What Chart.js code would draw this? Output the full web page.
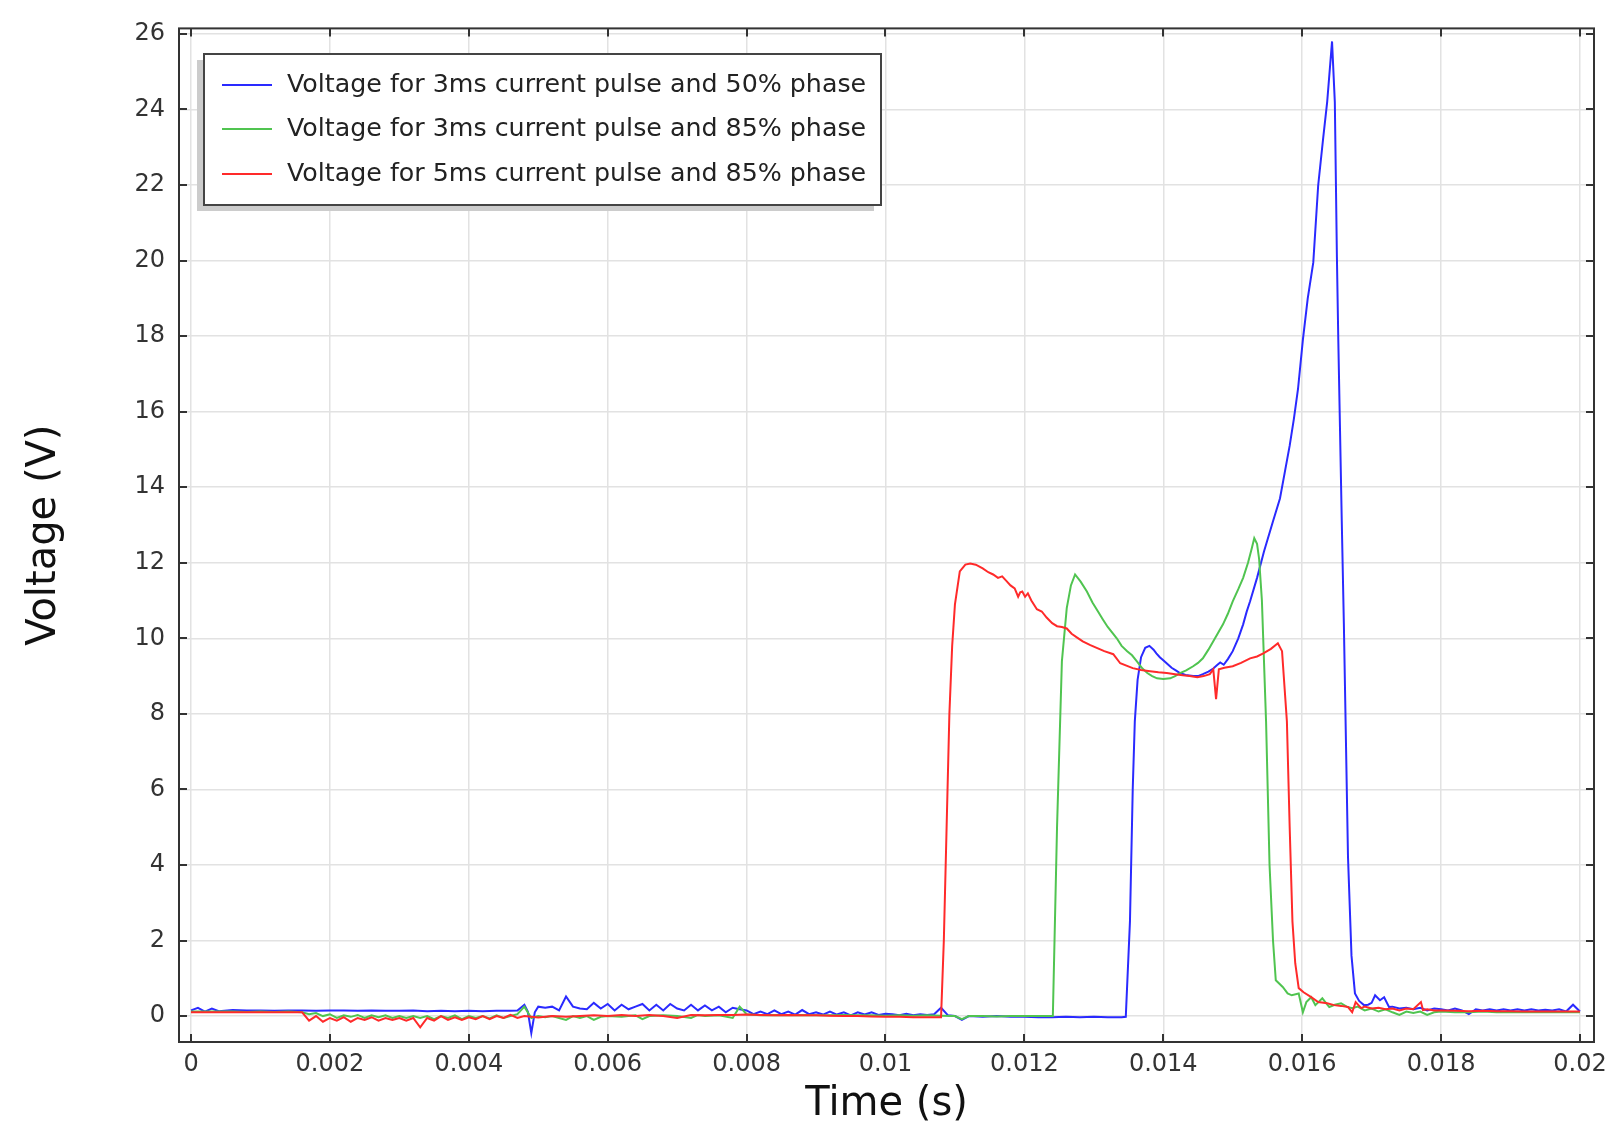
<!DOCTYPE html>
<html>
<head>
<meta charset="utf-8">
<script src="https://cdn.jsdelivr.net/npm/chart.js@4/dist/chart.umd.min.js"></script>
<style>
  html, body { margin: 0; padding: 0; background: #ffffff; }
  canvas { display: block; }
</style>
</head>
<body>
<canvas id="c" width="1621" height="1124"></canvas>
<script>
// ---------- DATA ----------
const seriesLabels = [
  'Voltage for 3ms current pulse and 50% phase',
  'Voltage for 3ms current pulse and 85% phase',
  'Voltage for 5ms current pulse and 85% phase'
];

const xTickValues = [0, 0.002, 0.004, 0.006, 0.008, 0.01, 0.012, 0.014, 0.016, 0.018, 0.02];
const xTickLabels = ['0', '0.002', '0.004', '0.006', '0.008', '0.01', '0.012', '0.014', '0.016', '0.018', '0.02'];
const yTickValues = [0, 2, 4, 6, 8, 10, 12, 14, 16, 18, 20, 22, 24, 26];
const yTickLabels = ['0', '2', '4', '6', '8', '10', '12', '14', '16', '18', '20', '22', '24', '26'];

// Blue: 3ms pulse, 50% phase
const blueTime = [
  0, 0.0001, 0.0002, 0.0003, 0.0004, 0.0006, 0.0008, 0.001, 0.0012, 0.0014,
  0.0016, 0.0018, 0.002, 0.0022, 0.0024, 0.0026, 0.0028, 0.003, 0.0032, 0.0034,
  0.0036, 0.0038, 0.004, 0.0042, 0.0044, 0.0046, 0.0047, 0.0048, 0.00485, 0.0049,
  0.00495, 0.005, 0.0051, 0.0052, 0.0053, 0.0054, 0.0055, 0.0056, 0.0057, 0.0058,
  0.0059, 0.006, 0.0061, 0.0062, 0.0063, 0.0064, 0.0065, 0.0066, 0.0067, 0.0068,
  0.0069, 0.007, 0.0071, 0.0072, 0.0073, 0.0074, 0.0075, 0.0076, 0.0077, 0.0078,
  0.0079, 0.008, 0.0081, 0.0082, 0.0083, 0.0084, 0.0085, 0.0086, 0.0087, 0.0088,
  0.0089, 0.009, 0.0091, 0.0092, 0.0093, 0.0094, 0.0095, 0.0096, 0.0097, 0.0098,
  0.0099, 0.01, 0.0101, 0.0102, 0.0103, 0.0104, 0.0105, 0.0106, 0.0107, 0.0108,
  0.0109, 0.011, 0.0111, 0.0112, 0.0114, 0.0116, 0.0118, 0.012, 0.0122, 0.0124,
  0.0126, 0.0128, 0.013, 0.0132, 0.0134, 0.01346, 0.01352, 0.01356, 0.01359, 0.01363,
  0.01368, 0.01374, 0.0138, 0.01386, 0.0139, 0.01395, 0.014, 0.01406, 0.01412, 0.01418,
  0.01424, 0.01432, 0.01443, 0.0145, 0.01457, 0.01465, 0.01472, 0.01478, 0.01482, 0.01487,
  0.01493, 0.015, 0.01508, 0.01515, 0.0152, 0.01525, 0.01535, 0.01545, 0.01558, 0.01568,
  0.01575, 0.01582, 0.01588, 0.01594, 0.01601, 0.01608, 0.01616, 0.01623, 0.0163, 0.01636,
  0.01643, 0.01647, 0.0165, 0.01652, 0.01657, 0.0166, 0.01666, 0.01671, 0.01676, 0.01682,
  0.01689, 0.01695, 0.017, 0.01705, 0.01712, 0.01718, 0.01725, 0.0173, 0.0174, 0.0175,
  0.0176, 0.0177, 0.0178, 0.0179, 0.018, 0.0181, 0.0182, 0.0183, 0.0184, 0.0185,
  0.0186, 0.0187, 0.0188, 0.0189, 0.019, 0.0191, 0.0192, 0.0193, 0.0194, 0.0195,
  0.0196, 0.0197, 0.0198, 0.0199, 0.02
];
const blueVolt = [
  0.15, 0.22, 0.12, 0.2, 0.13, 0.16, 0.15, 0.15, 0.14, 0.15,
  0.15, 0.14, 0.15, 0.15, 0.14, 0.15, 0.14, 0.14, 0.15, 0.13,
  0.14, 0.13, 0.14, 0.13, 0.14, 0.14, 0.15, 0.3, 0.12, -0.45,
  0.1, 0.25, 0.22, 0.25, 0.15, 0.52, 0.25, 0.2, 0.18, 0.35,
  0.2, 0.32, 0.15, 0.3, 0.18, 0.25, 0.32, 0.15, 0.3, 0.15,
  0.32, 0.2, 0.15, 0.3, 0.15, 0.28, 0.15, 0.25, 0.1, 0.22,
  0.18, 0.15, 0.05, 0.12, 0.05, 0.15, 0.05, 0.12, 0.04, 0.16,
  0.05, 0.1, 0.04, 0.12, 0.04, 0.1, 0.02, 0.1, 0.04, 0.1,
  0.03, 0.06, 0.05, 0.02, 0.06, 0.02, 0.05, 0.03, 0.05, 0.22,
  0.02, 0.0, -0.1, 0.0, -0.02, 0.0, -0.02, -0.02, -0.03, -0.03,
  -0.02, -0.03, -0.02, -0.03, -0.03, -0.02, 2.5, 6.0, 7.8, 8.9,
  9.5, 9.75, 9.8, 9.7, 9.6, 9.5, 9.42, 9.32, 9.22, 9.15,
  9.08, 9.03, 9.0, 9.0, 9.05, 9.12, 9.2, 9.3, 9.36, 9.3,
  9.45, 9.66, 10.0, 10.37, 10.7, 10.98, 11.6, 12.3, 13.1, 13.7,
  14.4, 15.1, 15.8, 16.6, 17.9, 19.0, 19.95, 21.98, 23.2, 24.2,
  25.8, 24.2, 20.1, 17.9, 13.1, 10.4, 4.2, 1.6, 0.6, 0.4,
  0.29, 0.3, 0.35, 0.55, 0.42, 0.5, 0.24, 0.25, 0.2, 0.22,
  0.18, 0.22, 0.15, 0.2, 0.18, 0.15, 0.2, 0.15, 0.05, 0.18,
  0.15, 0.18, 0.15, 0.18, 0.15, 0.18, 0.15, 0.18, 0.15, 0.17,
  0.15, 0.18, 0.12, 0.3, 0.12
];

// Green: 3ms pulse, 85% phase
const greenTime = [
  0, 0.0002, 0.0004, 0.0006, 0.0008, 0.001, 0.0012, 0.0014, 0.0016, 0.0017,
  0.0018, 0.0019, 0.002, 0.0021, 0.0022, 0.0023, 0.0024, 0.0025, 0.0026, 0.0027,
  0.0028, 0.0029, 0.003, 0.0031, 0.0032, 0.0033, 0.0034, 0.0035, 0.0036, 0.0037,
  0.0038, 0.0039, 0.004, 0.0041, 0.0042, 0.0043, 0.0044, 0.0045, 0.0046, 0.0047,
  0.0048, 0.0049, 0.005, 0.0051, 0.0052, 0.0053, 0.0054, 0.0055, 0.0056, 0.0057,
  0.0058, 0.0059, 0.006, 0.0062, 0.0064, 0.0065, 0.0066, 0.0068, 0.007, 0.0072,
  0.0073, 0.0074, 0.0076, 0.0078, 0.0079, 0.008, 0.0082, 0.0084, 0.0086, 0.0088,
  0.009, 0.0092, 0.0094, 0.0096, 0.0098, 0.01, 0.0102, 0.0104, 0.0106, 0.0108,
  0.011, 0.0111, 0.0112, 0.0114, 0.0116, 0.0118, 0.012, 0.0122, 0.0124, 0.01241,
  0.01247, 0.01254, 0.01261, 0.01267, 0.01273, 0.01281, 0.0129, 0.01298, 0.01306, 0.01313,
  0.0132, 0.01333, 0.0134, 0.01348, 0.01355, 0.01362, 0.0137, 0.01377, 0.01384, 0.01391,
  0.014, 0.0141, 0.01417, 0.01424, 0.01433, 0.01443, 0.0145, 0.01457, 0.01465, 0.01472,
  0.01479, 0.01486, 0.01493, 0.015, 0.01508, 0.01515, 0.01522, 0.01527, 0.01531, 0.01535,
  0.01538, 0.01542, 0.01548, 0.01553, 0.01558, 0.01562, 0.01572, 0.01579, 0.01585, 0.01595,
  0.01601, 0.01606, 0.01613, 0.01619, 0.01629, 0.01639, 0.01647, 0.01656, 0.01664, 0.01672,
  0.0168, 0.0169, 0.017, 0.0171, 0.0172, 0.0173, 0.0174, 0.0175, 0.0176, 0.0177,
  0.0178, 0.0179, 0.018, 0.0182, 0.0184, 0.0186, 0.0188, 0.019, 0.0192, 0.0194,
  0.0196, 0.0198, 0.02
];
const greenVolt = [
  0.12, 0.12, 0.12, 0.12, 0.11, 0.12, 0.11, 0.12, 0.1, 0.05,
  0.08, 0.0, 0.05, -0.05, 0.02, -0.02, 0.03, -0.05, 0.02, -0.03,
  0.02, -0.05, 0.0, -0.05, 0.0, -0.05, 0.0, -0.08, 0.0, -0.05,
  0.02, -0.08, 0.0, -0.05, 0.0, -0.06, 0.02, -0.05, 0.0, 0.05,
  0.25, -0.05, 0.0, -0.03, 0.0, -0.05, -0.1, 0.0, -0.05, 0.0,
  -0.1, -0.02, 0.0, -0.02, 0.02, -0.08, 0.0, 0.02, 0.0, -0.05,
  0.03, 0.0, 0.02, -0.05, 0.25, 0.05, 0.02, 0.03, 0.02, 0.03,
  0.02, 0.02, 0.03, 0.02, 0.02, 0.01, 0.02, 0.01, 0.02, 0.01,
  0.0, -0.08, 0.0, 0.0, -0.01, 0.0, 0.0, 0.0, 0.0, 0.02,
  5.0, 9.39, 10.8, 11.4, 11.69, 11.5, 11.24, 10.95, 10.71, 10.5,
  10.3, 10.0, 9.8, 9.66, 9.55, 9.39, 9.2, 9.08, 9.0, 8.94,
  8.92, 8.94, 9.0, 9.08, 9.15, 9.26, 9.35, 9.47, 9.7, 9.92,
  10.15, 10.37, 10.65, 10.98, 11.3, 11.6, 12.0, 12.35, 12.65, 12.5,
  12.1, 11.0, 7.8, 4.0, 2.0, 0.95, 0.77, 0.6, 0.55, 0.6,
  0.1, 0.37, 0.5, 0.29, 0.47, 0.24, 0.3, 0.34, 0.25, 0.21,
  0.25, 0.15, 0.2, 0.12, 0.18, 0.1, 0.03, 0.12, 0.08, 0.12,
  0.03, 0.1, 0.12, 0.1, 0.1, 0.12, 0.1, 0.1, 0.1, 0.1,
  0.1, 0.1, 0.1
];

// Red: 5ms pulse, 85% phase
const redTime = [
  0, 0.0002, 0.0004, 0.0006, 0.0008, 0.001, 0.0012, 0.0014, 0.0016, 0.0017,
  0.0018, 0.0019, 0.002, 0.0021, 0.0022, 0.0023, 0.0024, 0.0025, 0.0026, 0.0027,
  0.0028, 0.0029, 0.003, 0.0031, 0.0032, 0.0033, 0.0034, 0.0035, 0.0036, 0.0037,
  0.0038, 0.0039, 0.004, 0.0041, 0.0042, 0.0043, 0.0044, 0.0045, 0.0046, 0.0047,
  0.0048, 0.0049, 0.005, 0.0052, 0.0054, 0.0056, 0.0058, 0.006, 0.0062, 0.0064,
  0.0066, 0.0068, 0.007, 0.0072, 0.0074, 0.0076, 0.0078, 0.008, 0.0082, 0.0084,
  0.0086, 0.0088, 0.009, 0.0092, 0.0094, 0.0096, 0.0098, 0.01, 0.0102, 0.0104,
  0.0106, 0.0108, 0.01084, 0.01088, 0.01092, 0.01096, 0.011, 0.01107, 0.01115, 0.01122,
  0.0113, 0.0114, 0.01148, 0.01155, 0.01162, 0.01168, 0.01175, 0.0118, 0.01186, 0.01191,
  0.01194, 0.01197, 0.01201, 0.01205, 0.0121, 0.01218, 0.01225, 0.01232, 0.0124, 0.01247,
  0.01254, 0.01261, 0.01268, 0.01276, 0.01284, 0.01295, 0.01305, 0.01315, 0.01328, 0.01338,
  0.01356, 0.01368, 0.01381, 0.01393, 0.01405, 0.01417, 0.01428, 0.01438, 0.01449, 0.01458,
  0.01467, 0.01472, 0.01476, 0.0148, 0.01488, 0.015, 0.01512, 0.01525, 0.01535, 0.01544,
  0.01555, 0.01565, 0.01571, 0.01578, 0.01582, 0.01586, 0.0159, 0.01595, 0.01602, 0.01613,
  0.01623, 0.01636, 0.01646, 0.01656, 0.01666, 0.01672, 0.01677, 0.01685, 0.0169, 0.017,
  0.0171, 0.0172, 0.0173, 0.0174, 0.0175, 0.0176, 0.01771, 0.01774, 0.0178, 0.0179,
  0.018, 0.0182, 0.0184, 0.0186, 0.0188, 0.019, 0.0192, 0.0194, 0.0196, 0.0198,
  0.02
];
const redVolt = [
  0.1, 0.1, 0.1, 0.1, 0.1, 0.1, 0.1, 0.1, 0.1, -0.12,
  0.0, -0.15, -0.05, -0.12, -0.03, -0.15, -0.05, -0.1, -0.03, -0.12,
  -0.05, -0.1, -0.05, -0.12, -0.05, -0.3, -0.05, -0.12, 0.0, -0.1,
  -0.03, -0.1, -0.03, -0.08, 0.0, -0.08, 0.0, -0.05, 0.03, -0.05,
  0.0, -0.02, -0.04, 0.0, -0.02, 0.0, 0.02, 0.0, 0.03, 0.0,
  0.03, 0.0, -0.05, 0.03, 0.02, 0.03, 0.03, 0.04, 0.03, 0.02,
  0.03, 0.02, 0.02, 0.01, 0.0, 0.0, -0.01, -0.02, -0.02, -0.03,
  -0.03, -0.03, 2.0, 5.0, 8.0, 9.8, 10.9, 11.77, 11.95, 11.98,
  11.95, 11.85, 11.75, 11.69, 11.6, 11.64, 11.5, 11.4, 11.32, 11.1,
  11.22, 11.24, 11.1, 11.19, 11.0, 10.77, 10.71, 10.55, 10.4, 10.32,
  10.3, 10.26, 10.12, 10.02, 9.92, 9.82, 9.74, 9.66, 9.58, 9.34,
  9.21, 9.16, 9.13, 9.1, 9.08, 9.05, 9.02, 9.0, 8.97, 9.0,
  9.05, 9.18, 8.39, 9.18, 9.22, 9.26, 9.35, 9.47, 9.52, 9.6,
  9.72, 9.87, 9.66, 7.8, 5.0, 2.5, 1.4, 0.74, 0.63, 0.5,
  0.37, 0.34, 0.29, 0.27, 0.24, 0.1, 0.37, 0.21, 0.25, 0.2,
  0.22, 0.18, 0.2, 0.15, 0.2, 0.18, 0.37, 0.16, 0.18, 0.15,
  0.15, 0.14, 0.13, 0.14, 0.13, 0.13, 0.12, 0.12, 0.12, 0.12,
  0.12
];

const seriesColors = ['#2a2aff', '#50c450', '#ff2a2a'];

// ---------- CHART ----------
const FONT = "'DejaVu Sans', 'Liberation Sans', sans-serif";

function toPoints(ts, vs) {
  return ts.map((t, i) => ({ x: t, y: vs[i] }));
}

const framePlugin = {
  id: 'frameAndLegend',
  afterDatasetsDraw(chart) {
    const ctx = chart.ctx;
    const a = chart.chartArea;
    const xs = chart.scales.x, ys = chart.scales.y;
    ctx.save();
    // frame
    ctx.strokeStyle = '#333333';
    ctx.lineWidth = 2;
    ctx.strokeRect(a.left, a.top, a.right - a.left, a.bottom - a.top);
    // inward ticks
    const tl = 8;
    ctx.beginPath();
    xTickValues.forEach(v => {
      const px = Math.round(xs.getPixelForValue(v));
      ctx.moveTo(px, a.bottom); ctx.lineTo(px, a.bottom - tl);
      ctx.moveTo(px, a.top); ctx.lineTo(px, a.top + tl);
    });
    yTickValues.forEach(v => {
      const py = Math.round(ys.getPixelForValue(v));
      ctx.moveTo(a.left, py); ctx.lineTo(a.left + tl, py);
      ctx.moveTo(a.right, py); ctx.lineTo(a.right - tl, py);
    });
    ctx.stroke();

    // legend box
    const bx = 204, by = 54, bw = 677, bh = 151;
    ctx.fillStyle = '#cccccc';
    ctx.fillRect(bx - 7, by + 6, bw, bh);
    ctx.fillStyle = '#ffffff';
    ctx.fillRect(bx, by, bw, bh);
    ctx.strokeStyle = '#444444';
    ctx.lineWidth = 2;
    ctx.strokeRect(bx, by, bw, bh);
    const rowY = [85, 129, 174];
    ctx.font = '25.3px ' + FONT;
    ctx.textBaseline = 'middle';
    ctx.textAlign = 'left';
    chart.data.datasets.forEach((ds, i) => {
      ctx.strokeStyle = ds.borderColor;
      ctx.lineWidth = 2.2;
      ctx.beginPath();
      ctx.moveTo(222, rowY[i]);
      ctx.lineTo(272, rowY[i]);
      ctx.stroke();
      ctx.fillStyle = '#222222';
      ctx.fillText(ds.label, 287, rowY[i]);
    });
    ctx.restore();
  }
};

new Chart(document.getElementById('c'), {
  type: 'line',
  data: {
    datasets: [
      { label: seriesLabels[0], data: toPoints(blueTime, blueVolt), borderColor: seriesColors[0], order: 3 },
      { label: seriesLabels[1], data: toPoints(greenTime, greenVolt), borderColor: seriesColors[1], order: 2 },
      { label: seriesLabels[2], data: toPoints(redTime, redVolt), borderColor: seriesColors[2], order: 1 }
    ]
  },
  options: {
    responsive: false,
    animation: false,
    elements: {
      point: { radius: 0 },
      line: { borderWidth: 2, tension: 0, fill: false }
    },
    layout: { padding: { left: 19, top: 26, right: 27, bottom: 0 } },
    plugins: {
      legend: { display: false },
      tooltip: { enabled: false }
    },
    scales: {
      x: {
        type: 'linear',
        min: -0.000173,
        max: 0.020202,
        afterBuildTicks: s => { s.ticks = xTickValues.map(v => ({ value: v })); },
        afterFit: s => { s.height = 82; },
        border: { display: false },
        grid: { color: '#e2e2e2', lineWidth: 1.5, drawTicks: false },
        ticks: {
          padding: 8,
          maxRotation: 0,
          autoSkip: false,
          color: '#333333',
          font: { family: FONT, size: 24 },
          callback: (v, i) => xTickLabels[i]
        },
        title: {
          display: true,
          text: 'Time (s)',
          color: '#111111',
          font: { family: FONT, size: 40 },
          padding: { top: 0, bottom: -5 }
        }
      },
      y: {
        type: 'linear',
        min: -0.686,
        max: 26.145,
        afterBuildTicks: s => { s.ticks = yTickValues.map(v => ({ value: v })); },
        afterFit: s => { s.width = 160; },
        border: { display: false },
        grid: { color: '#e2e2e2', lineWidth: 1.5, drawTicks: false },
        ticks: {
          padding: 14,
          autoSkip: false,
          color: '#333333',
          font: { family: FONT, size: 24 },
          callback: (v, i) => yTickLabels[i]
        },
        title: {
          display: true,
          text: 'Voltage (V)',
          color: '#111111',
          font: { family: FONT, size: 40 },
          padding: { top: 2, bottom: 0 }
        }
      }
    }
  },
  plugins: [framePlugin]
});
</script>
</body>
</html>
